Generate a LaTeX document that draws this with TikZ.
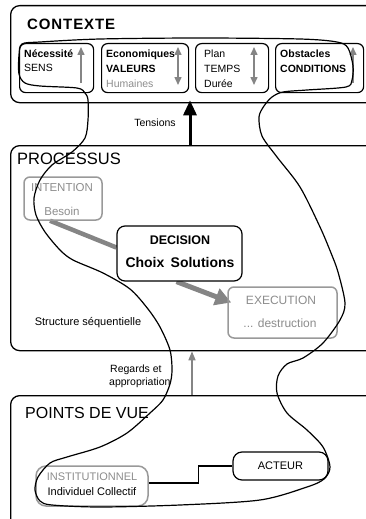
\documentclass[tikz,border=0pt]{standalone}
\usepackage{fontspec}
\setmainfont{Liberation Sans}
\usetikzlibrary{arrows.meta,backgrounds}
\definecolor{gtext}{gray}{0.55}
\definecolor{gline}{gray}{0.52}
\definecolor{gborder}{gray}{0.6}
\tikzset{
  outerbox/.style={draw, line width=1.3pt, rounded corners=9pt, anchor=north west, inner sep=0pt},
  ctxbox/.style={draw, line width=1.2pt, rounded corners=6pt, anchor=north west, inner sep=0pt},
  graybox/.style={draw=gborder, line width=1.5pt, rounded corners=6pt, inner sep=0pt},
  blackbox/.style={draw, line width=1.2pt, rounded corners=8pt, inner sep=0pt},
  ctxtxt/.style={inner sep=0pt, anchor=base west, font=\fontsize{10.5}{12}\selectfont},
  title/.style={inner sep=0pt, anchor=west, font=\fontsize{16.5}{18}\selectfont},
  txt/.style={inner sep=0pt, font=\fontsize{10.5}{12}\selectfont},
  gtxt/.style={inner sep=0pt, text=gtext, font=\fontsize{11.5}{13}\selectfont},
  garrow/.style={draw=gline, line width=1.5pt, -{Triangle[width=7pt,length=8pt]}},
  gdarrow/.style={draw=gline, line width=1.5pt, {Triangle[width=7pt,length=8pt]}-{Triangle[width=7pt,length=8pt]}},
  conn/.style={draw, line width=1.2pt},
  loopline/.style={draw, line width=1.2pt, line join=round},
}
\begin{document}
\begin{tikzpicture}[x=1pt,y=-1pt]
\useasboundingbox (0,0) rectangle (366,519);
\clip (0,0) rectangle (366,519);

% outer boxes
\node[outerbox, minimum width=380pt, minimum height=97pt] (ctx) at (10,5) {};
\node[outerbox, minimum width=380pt, minimum height=205pt] (proc) at (10,145) {};
\node[outerbox, minimum width=380pt, minimum height=140pt] (pdv) at (10,395) {};

\node[title, font=\fontsize{15}{18}\bfseries\addfontfeature{LetterSpace=6}] (tctx) at (27,24) {CONTEXTE};
\node[title] (tproc) at (17,159) {PROCESSUS};
\node[title, font=\fontsize{16}{18}\selectfont] (tpdv) at (25,413) {POINTS DE VUE};

% context boxes
\node[ctxbox, minimum width=74pt, minimum height=49pt] (b1) at (19,43) {};
\node[ctxbox, minimum width=87pt, minimum height=49pt] (b2) at (101,43) {};
\node[ctxbox, minimum width=73pt, minimum height=49pt] (b3) at (195,43) {};
\node[ctxbox, minimum width=88pt, minimum height=49pt] (b4) at (275,43) {};

\node[ctxtxt, font=\fontsize{10.5}{12}\bfseries] (n1) at (24,58) {Nécessité};
\node[ctxtxt] (n2) at (24,71) {SENS};
\node[ctxtxt, font=\fontsize{10.5}{12}\bfseries] (e1) at (106,58) {Economiques};
\node[ctxtxt, font=\fontsize{10.5}{12}\bfseries] (e2) at (106,72) {VALEURS};
\node[ctxtxt, text=gtext] (e3) at (106,87) {Humaines};
\node[ctxtxt] (p1) at (204,58) {Plan};
\node[ctxtxt] (p2) at (204,72) {TEMPS};
\node[ctxtxt] (p3) at (204,87) {Durée};
\node[ctxtxt, font=\fontsize{10.5}{12}\bfseries] (o1) at (280,58) {Obstacles};
\node[ctxtxt, font=\fontsize{10.5}{12}\bfseries] (o2) at (280,72) {CONDITIONS};

\coordinate (a1s) at (81,83); \coordinate (a1e) at (81,47);
\coordinate (a2s) at (178,85); \coordinate (a2e) at (178,47);
\coordinate (a3s) at (254,85); \coordinate (a3e) at (254,47);
\coordinate (a4s) at (353,83); \coordinate (a4e) at (353,47);
\draw[garrow] (a1s) -- (a1e);
\draw[gdarrow] (a2s) -- (a2e);
\draw[gdarrow] (a3s) -- (a3e);
\draw[garrow] (a4s) -- (a4e);

% tensions
\coordinate (tx) at (190,0);
\draw[line width=3pt, -{Triangle[width=13pt,length=15pt]}] (proc.north -| tx) -- ([yshift=3pt]ctx.south -| tx);
\node[txt] (ttens) at (155,123) {Tensions};

% processus
\node[graybox, minimum width=78pt, minimum height=43pt] (int) at (63,198.5) {};
\node[gtxt] (int1) at (62,188) {INTENTION};
\node[gtxt] (int2) at (62,211) {Besoin};

\node[graybox, minimum width=109pt, minimum height=51pt] (exe) at (282.5,312.5) {};
\node[gtxt, font=\fontsize{12}{14}\selectfont] (exe1) at (281,300) {EXECUTION};
\node[gtxt, font=\fontsize{12}{14}\selectfont] (exe2) at (280,323) {... destruction};

\node[blackbox, fill=white, minimum width=125pt, minimum height=55pt] (dec) at (179.5,253.5) {};
\node[inner sep=0pt, font=\fontsize{12.5}{14}\bfseries] (dec1) at (180,240) {DECISION};
\node[inner sep=0pt, font=\fontsize{14}{16}\bfseries] (dec2) at (180,262) {Choix\hspace{0.45em}Solutions};

\begin{scope}[on background layer]
\draw[gline, line width=4.5pt] ([xshift=-13pt]int.south) -- ([yshift=6pt]dec.west);
\draw[gline, line width=5pt, -{Triangle[width=17pt,length=16pt]}] ([xshift=-3pt]dec.south) -- ([xshift=4pt,yshift=10pt]exe.west);
\end{scope}

\node[txt, font=\fontsize{11}{13}\selectfont] (tseq) at (88,323) {Structure séquentielle};

% regards
\coordinate (rx) at (192,0);
\draw[draw=gline, line width=1.5pt, -{Triangle[width=7pt,length=9pt]}] (pdv.north -| rx) -- (proc.south -| rx);
\node[txt, anchor=base west] (treg1) at (110,372) {Regards et};
\node[txt, anchor=base west] (treg2) at (109,385) {appropriation};

% points de vue
\node[graybox, rounded corners=10pt, minimum width=112pt, minimum height=40pt] (inst) at (92,486) {};
\node[gtxt, font=\fontsize{11}{13}\selectfont] (inst1) at (92,477) {INSTITUTIONNEL};
\node[inner sep=0pt, font=\fontsize{11}{13}\selectfont] (inst2) at (92,492) {Individuel Collectif};
\node[blackbox, rounded corners=9pt, minimum width=95pt, minimum height=28pt, font=\fontsize{11}{13}\selectfont] (act) at (280.5,466) {ACTEUR};
\draw[conn] ([yshift=3pt]inst.east) -- ++(50,0) |- (act.west);

% freehand loop
\draw[loopline] plot[smooth cycle, tension=0.5] coordinates {
(22,44) (40,42) (100,39) (200,38) (300,39) (337,42) (348,48) (353,66) (352,80) (346,87)
(307,90) (283,92) (272,97) (264,106) (259,117) (262,136) (277,157) (300,187) (320,227)
(331,253) (338,272) (345,303) (340,320) (323,343) (303,358) (287,364) (278,376) (277,393)
(287,413) (307,430) (323,447) (330,467) (324,479) (307,487) (260,500) (180,505) (100,507)
(52,505) (40,501) (35,490) (38,477) (50,463) (67,457) (100,447) (127,433) (150,413) (163,400)
(170,384) (172,370) (170,350) (160,327) (148,309) (130,289) (103,273) (73,260) (60,250)
(45,232) (36,215) (34,198) (40,180) (52,165) (72,152) (85,138) (88,120) (88,100) (85,93)
(77,88) (40,86) (25,83) (19,74) (19,55)};
\end{tikzpicture}
\end{document}
